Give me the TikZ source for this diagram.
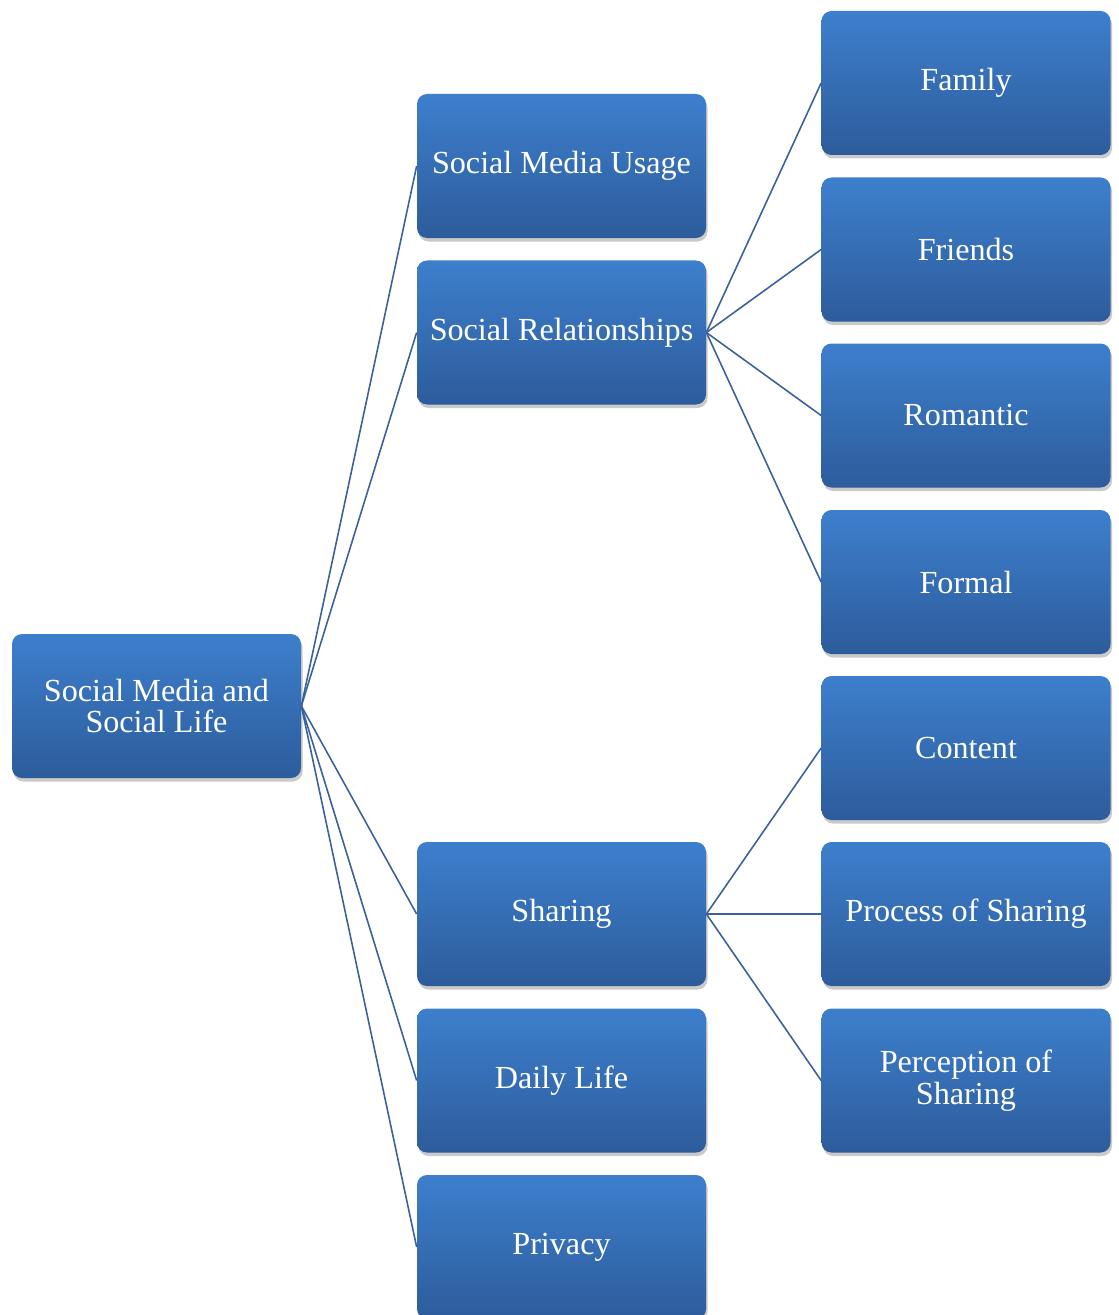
\documentclass[tikz,border=0pt]{standalone}
\usepackage{fontspec}
\setmainfont{Liberation Serif}
\usetikzlibrary{shadows}

\definecolor{boxtop}{HTML}{3D7FCD}
\definecolor{boxbot}{HTML}{2D5C9B}
\definecolor{linkblue}{HTML}{3A6199}

\begin{document}
\begin{tikzpicture}[scale=1,auto=center,
    box/.style={rectangle, rounded corners=0.2cm, minimum width=5.78cm, minimum height=2.88cm,
        top color=boxtop, bottom color=boxbot, text=white, align=center, font=\fontsize{18.3}{18.1}\selectfont,
        drop shadow={shadow xshift=0.03cm, shadow yshift=-0.07cm, opacity=0.35, fill=black!60}},
    link/.style={linkblue, line width=0.9pt}]

        \useasboundingbox (0, 0) rectangle (22.36, -26.3);

        \node[box] (root) at (3.13, -14.12) {Social Media and\\Social Life};

        \node[box] (usage) at (11.23, -3.32) {Social Media Usage};
        \node[box] (rel) at (11.23, -6.65) {Social Relationships};
        \node[box] (share) at (11.23, -18.28) {Sharing};
        \node[box] (daily) at (11.23, -21.61) {Daily Life};
        \node[box] (priv) at (11.23, -24.94) {Privacy};

        \node[box] (fam) at (19.32, -1.66) {Family};
        \node[box] (friends) at (19.32, -4.99) {Friends};
        \node[box] (rom) at (19.32, -8.31) {Romantic};
        \node[box] (formal) at (19.32, -11.64) {Formal};
        \node[box] (content) at (19.32, -14.96) {Content};
        \node[box] (proc) at (19.32, -18.28) {Process of Sharing};
        \node[box] (perc) at (19.32, -21.61) {Perception of\\Sharing};

        \draw[link] (root.east) -- (usage.west);
        \draw[link] (root.east) -- (rel.west);
        \draw[link] (root.east) -- (share.west);
        \draw[link] (root.east) -- (daily.west);
        \draw[link] (root.east) -- (priv.west);
        \draw[link] (rel.east) -- (fam.west);
        \draw[link] (rel.east) -- (friends.west);
        \draw[link] (rel.east) -- (rom.west);
        \draw[link] (rel.east) -- (formal.west);
        \draw[link] (share.east) -- (content.west);
        \draw[link] (share.east) -- (proc.west);
        \draw[link] (share.east) -- (perc.west);
    \end{tikzpicture}
\end{document}
